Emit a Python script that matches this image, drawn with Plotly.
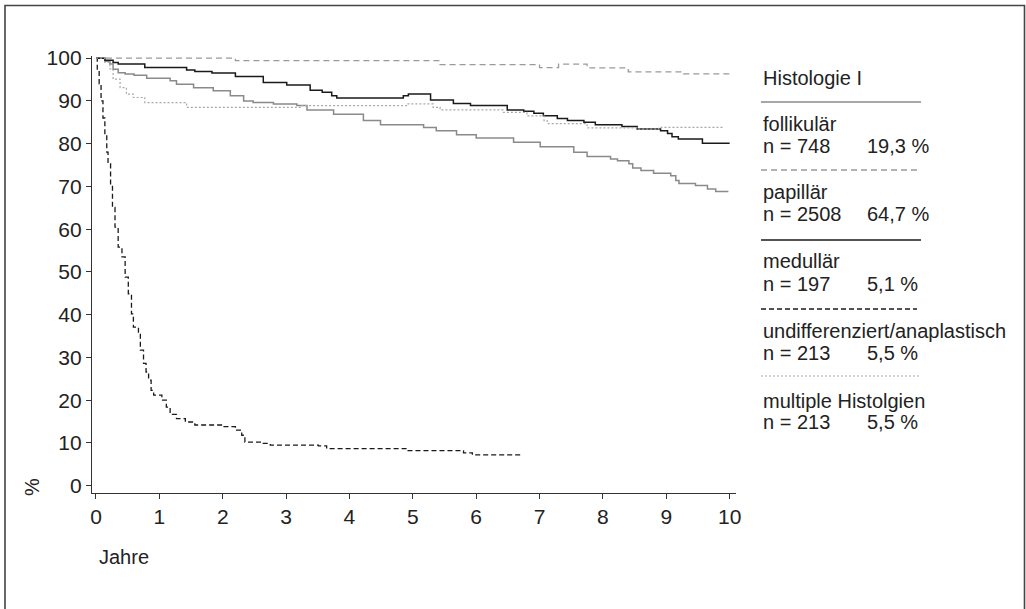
import plotly.graph_objects as go

# ---------------- data ----------------
years_tick = [0, 1, 2, 3, 4, 5, 6, 7, 8, 9, 10]
pct_tick = [0, 10, 20, 30, 40, 50, 60, 70, 80, 90, 100]

foll_x = [0, 0.14, 0.22, 0.27, 0.35, 0.46, 0.6, 0.80, 1.17, 1.27, 1.54, 1.85, 2.12, 2.33, 2.48, 2.80, 3.17,
          3.33, 3.75, 4.22, 4.49, 5.17, 5.37, 5.69, 6.0, 6.59, 7.01, 7.54, 7.75, 8.12, 8.23, 8.41, 8.47, 8.6,
          8.8, 9.07, 9.15, 9.2, 9.46, 9.65, 9.78, 9.98]
foll_y = [100, 99.3, 98.6, 97.4, 96.6, 96.3, 96.0, 95.3, 94.7, 93.9, 93.1, 92.4, 91.2, 90.0, 89.6, 89.3, 88.9,
          87.9, 86.9, 85.4, 84.4, 83.8, 83.0, 82.1, 81.3, 80.3, 79.3, 78.0, 77.0, 76.4, 76.0, 75.3, 74.3, 73.7,
          73.1, 72.5, 71.4, 70.7, 70.2, 69.4, 68.8, 68.8]

pap_x = [0, 2.2, 5.43, 7.0, 7.3, 7.75, 8.4, 9.27, 10.0]
pap_y = [100, 99.4, 98.5, 97.8, 98.6, 97.7, 96.8, 96.3, 96.3]

med_x = [0, 0.14, 0.27, 0.35, 0.77, 1.43, 1.56, 1.83, 2.2, 2.64, 3.01, 3.38, 3.57, 3.72, 3.80, 4.85, 4.93,
         5.28, 5.64, 5.91, 6.49, 6.75, 6.91, 7.06, 7.28, 7.44, 7.70, 7.88, 8.30, 8.54, 8.91, 9.02, 9.09, 9.19,
         9.57, 10.0]
med_y = [100, 99.5, 99.0, 98.6, 97.8, 97.2, 96.9, 96.5, 95.7, 94.3, 93.7, 92.5, 92.0, 91.2, 90.7, 91.2, 91.6,
         90.2, 89.4, 88.9, 87.9, 87.6, 87.1, 86.5, 85.9, 85.4, 85.0, 84.4, 84.0, 83.4, 83.0, 82.4, 81.6, 81.1,
         80.1, 80.1]

undiff_x = [0, 0.02, 0.05, 0.08, 0.11, 0.14, 0.17, 0.19, 0.23, 0.26, 0.30, 0.35, 0.41, 0.46, 0.51, 0.56, 0.59,
            0.67, 0.70, 0.75, 0.79, 0.83, 0.87, 0.91, 1.04, 1.11, 1.17, 1.27, 1.41, 1.56, 2.01, 2.20, 2.30,
            2.35, 2.64, 2.75, 3.51, 3.64, 4.91, 5.8, 5.94, 6.70]
undiff_y = [100, 97, 94, 90, 86, 82, 78, 75.3, 70.2, 65.1, 60.5, 55.8, 53.5, 48.8, 44.9, 40.2, 37.1,
            35.6, 31.7, 28.6, 26.6, 24.7, 22.3, 21.2, 20.0, 18.4, 16.7, 15.7, 14.9, 14.2, 13.8, 13.0, 11.8,
            10.2, 9.9, 9.5, 9.3, 8.7, 8.2, 7.7, 7.2, 7.2]

mult_x = [0, 0.14, 0.22, 0.27, 0.38, 0.48, 0.59, 0.77, 1.43, 3.22, 4.9, 5.32, 5.43, 6.43, 6.80, 7.07, 7.12,
          7.75, 8.54, 8.88, 9.91]
mult_y = [100, 99, 97.5, 95.1, 93.1, 91.6, 90.8, 89.6, 88.5, 88.9, 89.3, 88.5, 87.9, 87.3, 86.5, 85.4, 84.7,
          83.7, 83.4, 83.8, 83.8]

legend_title = "Histologie I"
legend_names = ["follikulär", "papillär", "medullär", "undifferenziert/anaplastisch", "multiple Histolgien"]
legend_n = ["n = 748", "n = 2508", "n = 197", "n = 213", "n = 213"]
legend_pct = ["19,3 %", "64,7 %", "5,1 %", "5,5 %", "5,5 %"]

# ---------------- styling ----------------
FONT = "Liberation Sans, Arial, Helvetica, sans-serif"
FS = 20
W, H = 1026, 609
L, R, T, B = 92, 736, 56, 493  # plot area in pixels

styles = [
    dict(color="#8a8a8a", width=1.5, dash="solid"),     # follikulär
    dict(color="#9a9a9a", width=1.3, dash="6px,4px"),   # papillär
    dict(color="#1a1a1a", width=1.5, dash="solid"),     # medullär
    dict(color="#1a1a1a", width=1.3, dash="5px,3px"),   # undifferenziert
    dict(color="#a8a8a8", width=1.2, dash="2px,2px"),   # multiple
]
series = [(foll_x, foll_y), (pap_x, pap_y), (med_x, med_y), (undiff_x, undiff_y), (mult_x, mult_y)]

fig = go.Figure()
for (xs, ys), st, name in zip(series, styles, legend_names):
    fig.add_trace(go.Scatter(x=xs, y=ys, mode="lines", line=dict(shape="hv", **st),
                             name=name, showlegend=False, hoverinfo="skip"))


def px(xp):
    return (xp - L) / (R - L)


def py(yp):
    return (B - yp) / (B - T)


fig.update_layout(
    width=W, height=H,
    margin=dict(l=L, r=W - R, t=T, b=H - B, pad=0),
    paper_bgcolor="white", plot_bgcolor="white",
    font=dict(family=FONT, size=FS, color="#222"),
    xaxis=dict(range=[-0.063, 10.1], tickvals=years_tick, ticktext=[str(v) for v in years_tick],
               showgrid=False, zeroline=False, showline=True, linecolor="#333", linewidth=1.3,
               ticks="outside", ticklen=5, tickcolor="#333", tickwidth=1.3,
               tickfont=dict(family=FONT, size=FS + 1, color="#222")),
    yaxis=dict(range=[-1.7, 100.5], tickvals=pct_tick, ticktext=[str(v) for v in pct_tick],
               showgrid=False, zeroline=False, showline=True, linecolor="#333", linewidth=1.3,
               ticks="outside", ticklen=5, tickcolor="#333", tickwidth=1.3,
               tickfont=dict(family=FONT, size=FS + 1, color="#222")),
)

ann = []
shapes = []
# axis titles
ann.append(dict(text="Jahre", x=px(97), y=py(557), xref="paper", yref="paper",
                xanchor="left", yanchor="middle", showarrow=False, font=dict(size=FS)))
ann.append(dict(text="%", x=px(32), y=py(487), xref="paper", yref="paper", textangle=-90,
                xanchor="center", yanchor="middle", showarrow=False, font=dict(size=FS)))

# legend block
LX = 761
ann.append(dict(text=legend_title, x=px(LX), y=py(78), xref="paper", yref="paper",
                xanchor="left", yanchor="middle", showarrow=False, font=dict(size=FS)))
sep_y = [102, 170, 240, 309, 376]
sep_x2 = [921, 917, 921, 917, 920]
name_y = [124, 192, 261, 331, 401]
n_y = [146, 214, 284, 353, 422]
for i in range(5):
    st = styles[i]
    shapes.append(dict(type="line", xref="paper", yref="paper", x0=px(761), x1=px(sep_x2[i]),
                       y0=py(sep_y[i]), y1=py(sep_y[i]),
                       line=dict(color=st["color"], width=st["width"], dash=st["dash"])))
    ann.append(dict(text=legend_names[i], x=px(LX), y=py(name_y[i]), xref="paper", yref="paper",
                    xanchor="left", yanchor="middle", showarrow=False, font=dict(size=FS)))
    ann.append(dict(text=legend_n[i], x=px(LX), y=py(n_y[i]), xref="paper", yref="paper",
                    xanchor="left", yanchor="middle", showarrow=False, font=dict(size=FS)))
    ann.append(dict(text=legend_pct[i], x=px(865), y=py(n_y[i]), xref="paper", yref="paper",
                    xanchor="left", yanchor="middle", showarrow=False, font=dict(size=FS)))

# outer frame
shapes.append(dict(type="rect", xref="paper", yref="paper", x0=px(5), x1=px(1024.5), y0=py(615), y1=py(5.5),
                   line=dict(color="#444", width=1.6), fillcolor="rgba(0,0,0,0)", layer="above"))

fig.update_layout(annotations=ann, shapes=shapes)
fig.write_html("out.html", config={"displayModeBar": False},
               post_script="document.body.style.margin='0px';document.body.style.overflow='hidden';")
